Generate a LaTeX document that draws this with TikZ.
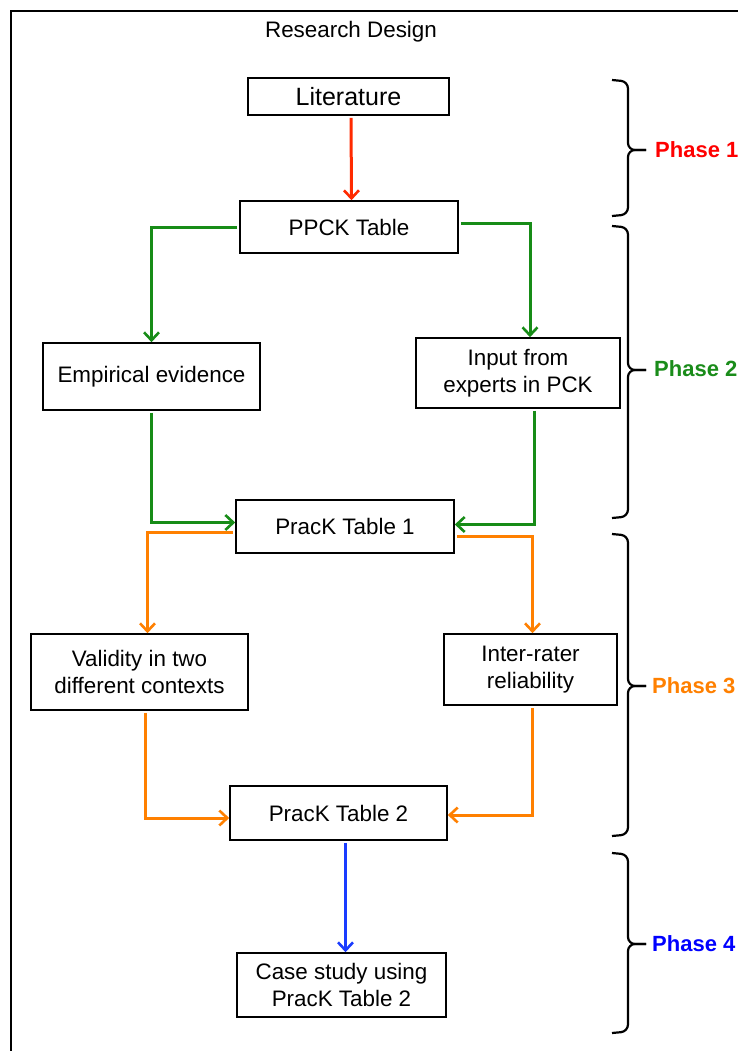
\documentclass[tikz,border=0pt]{standalone}
\usepackage{fontspec}
\setmainfont{Liberation Sans}
\usetikzlibrary{arrows.meta}
\definecolor{cred}{HTML}{FF2A00}
\definecolor{cgreen}{HTML}{178C17}
\definecolor{corange}{HTML}{FF8000}
\definecolor{cblue}{HTML}{1A3CFF}
\definecolor{tred}{HTML}{FF0000}
\definecolor{tgreen}{HTML}{1A8C1A}
\definecolor{tblue}{HTML}{0000FF}
\begin{document}
\begin{tikzpicture}[x=1pt,y=-1pt,
  box/.style={draw, line width=1.6pt, inner sep=0pt, align=center,
    font=\fontsize{22.4}{27}\selectfont},
  conn/.style={line width=3pt, -{Straight Barb[length=8pt,width=15pt,line width=2.6pt]}, shorten <=2pt},
  bracestyle/.style={line width=2.2pt, rounded corners=7pt},
  phase/.style={anchor=west, font=\bfseries\fontsize{22}{26}\selectfont, inner sep=0pt}]
\useasboundingbox (0,0) rectangle (738,1051);
\clip (0,0) rectangle (738,1051);
\fill[white] (0,0) rectangle (738,1051);
\draw[line width=2pt] (11,11) rectangle (800,1100);

\node[font=\fontsize{22.4}{27}\selectfont] (title) at (351,32) {Research Design};

\node[box, minimum width=201pt, minimum height=37pt, font=\fontsize{25}{30}\selectfont] (lit) at (348.5,96.5) {Literature};
\node[box, minimum width=218pt, minimum height=52pt] (ppck) at (349,227) {PPCK Table};
\node[box, minimum width=217pt, minimum height=67pt] (emp) at (151.5,376.5) {Empirical evidence};
\node[box, minimum width=204pt, minimum height=70pt] (inp) at (518,373) {Input from\\experts in PCK};
\node[box, minimum width=218pt, minimum height=53pt] (p1) at (345,526.5) {PracK Table 1};
\node[box, minimum width=217pt, minimum height=76pt] (val) at (139.5,672) {Validity in two\\different contexts};
\node[box, minimum width=173pt, minimum height=71pt] (irr) at (530.5,669.5) {Inter-rater\\reliability};
\node[box, minimum width=217pt, minimum height=54pt] (p2) at (338.5,813) {PracK Table 2};
\node[box, minimum width=209pt, minimum height=64pt] (cs) at (341.5,985) {Case study using\\PracK Table 2};

\draw[conn, cred] ([xshift=2.5pt]lit.south) -- ([xshift=2.5pt]ppck.north);

\draw[conn, cgreen] (ppck.west) -| (emp.north);
\draw[conn, cgreen] ([yshift=4pt]ppck.east) -| ([xshift=12pt]inp.north);
\draw[conn, cgreen] (emp.south) |- ([yshift=4pt]p1.west);
\draw[conn, cgreen] ([xshift=16pt]inp.south) |- ([yshift=2pt]p1.east);

\draw[conn, corange] ([yshift=-6pt]p1.west) -| ([xshift=8pt]val.north);
\draw[conn, corange] ([yshift=-10pt]p1.east) -| ([xshift=2pt]irr.north);
\draw[conn, corange] ([xshift=6pt]val.south) |- ([yshift=-5pt]p2.west);
\draw[conn, corange] ([xshift=2pt]irr.south) |- ([yshift=-2pt]p2.east);

\draw[conn, cblue] ([xshift=7pt]p2.south) -- ([xshift=4pt]cs.north);

% braces
\foreach \t/\m/\b in {80/150/216, 226/370/518, 534/686/836, 853/944/1033}{
  \draw[bracestyle] (612,\t) -- (628,\t+1.5) -- (628,\m) -- (646,\m);
  \draw[bracestyle] (612,\b) -- (628,\b-1.5) -- (628,\m) -- (646,\m);
}

\node[phase, text=tred] (ph1) at (655,150) {Phase 1};
\node[phase, text=tgreen] (ph2) at (654,369) {Phase 2};
\node[phase, text=corange] (ph3) at (652,686) {Phase 3};
\node[phase, text=tblue] (ph4) at (652,944) {Phase 4};
\end{tikzpicture}
\end{document}
